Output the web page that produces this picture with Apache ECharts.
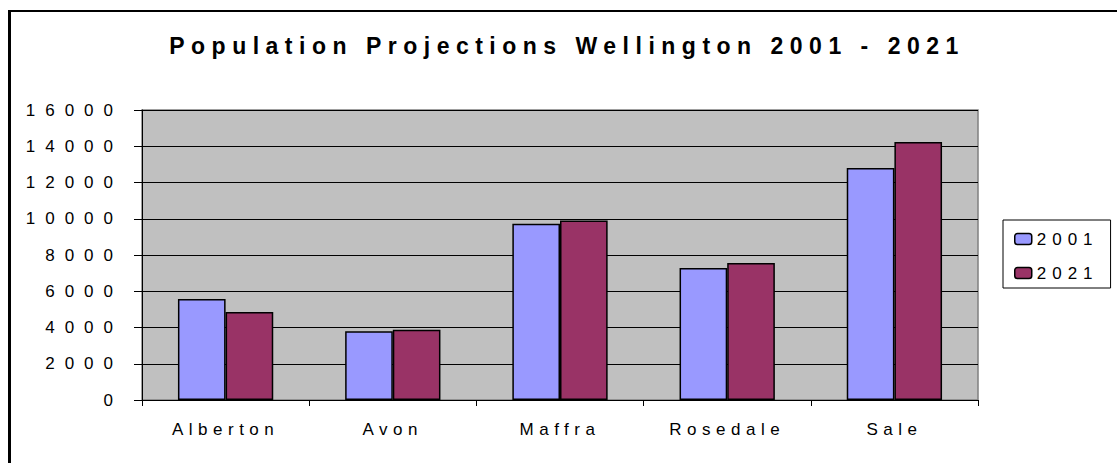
<!DOCTYPE html>
<html>
<head>
<meta charset="utf-8">
<script src="https://cdn.jsdelivr.net/npm/echarts@6/dist/echarts.min.js"></script>
<style>
html,body{margin:0;padding:0;background:#fff;}
#chart{width:1117px;height:463px;}
</style>
</head>
<body>
<div id="chart"></div>
<script>
const titleText = 'Population Projections Wellington 2001 - 2021';
const categories = ['Alberton', 'Avon', 'Maffra', 'Rosedale', 'Sale'];
const seriesNames = ['2001', '2021'];
const pop2001 = [5570, 3790, 9730, 7280, 12800];
const pop2021 = [4860, 3880, 9910, 7560, 14230];
const yMin = 0, yMax = 16000, yStep = 2000;

const FONT = "'Liberation Sans', Arial, sans-serif";
const chart = echarts.init(document.getElementById('chart'), null, {renderer: 'svg'});

const option = {
  animation: false,
  backgroundColor: '#ffffff',
  title: {
    text: titleText,
    left: 562, top: 29, textAlign: 'center',
    textStyle: {fontFamily: FONT, fontSize: 23, fontWeight: 'bold', color: '#000'}
  },
  legend: {
    data: seriesNames,
    orient: 'vertical',
    left: 1003, top: 220,
    padding: [8, 36, 4, 11],
    itemGap: 12,
    itemWidth: 17, itemHeight: 11,
    itemTextGap: 8,
    itemStyle: {borderColor: '#000', borderWidth: 1.5},
    borderColor: '#000', borderWidth: 1,
    backgroundColor: '#fff',
    textStyle: {fontFamily: FONT, fontSize: 17, color: '#000', lineHeight: 22}
  },
  grid: {
    left: 142, top: 110, right: 139, bottom: 63,
    show: true, backgroundColor: '#C0C0C0', borderColor: '#808080', borderWidth: 1.5
  },
  xAxis: {
    type: 'category',
    data: categories,
    axisLine: {lineStyle: {color: '#000', width: 1}},
    axisTick: {show: true, length: 6, lineStyle: {color: '#000'}},
    axisLabel: {fontFamily: FONT, fontSize: 17, color: '#000', margin: 21}
  },
  yAxis: {
    type: 'value',
    min: yMin, max: yMax, interval: yStep,
    axisLine: {show: true, lineStyle: {color: '#000', width: 1}},
    axisTick: {show: true, length: 8, lineStyle: {color: '#000'}},
    splitLine: {lineStyle: {color: '#000', width: 1}},
    axisLabel: {fontFamily: FONT, fontSize: 17, color: '#000', margin: 19,
      formatter: v => String(v)}
  },
  graphic: [
    {type: 'line', shape: {x1: 9.5, y1: 10, x2: 9.5, y2: 463}, style: {stroke: '#000', lineWidth: 3}, z: 100},
    {type: 'line', shape: {x1: 8, y1: 11, x2: 1117, y2: 11}, style: {stroke: '#000', lineWidth: 2}, z: 100}
  ],
  series: [
    {name: seriesNames[0], type: 'bar', data: pop2001, barGap: '0%', barCategoryGap: '43%',
      itemStyle: {color: '#9999FF', borderColor: '#000', borderWidth: 1.5}},
    {name: seriesNames[1], type: 'bar', data: pop2021, barGap: '0%', barCategoryGap: '43%',
      itemStyle: {color: '#993366', borderColor: '#000', borderWidth: 1.5}}
  ]
};
chart.setOption(option);

const yLabels = [];
for (let v = yMin; v <= yMax; v += yStep) yLabels.push(String(v));

function applySpacing() {
  document.querySelectorAll('#chart svg text').forEach(t => {
    const s = t.textContent;
    let ls = '5.5px';
    if (s === titleText) ls = '6.5px';
    else if (yLabels.includes(s)) ls = '10px';
    else if (seriesNames.includes(s)) ls = '6px';
    t.style.letterSpacing = ls;
  });
}
chart.on('finished', applySpacing);
applySpacing();
setTimeout(applySpacing, 50);
</script>
</body>
</html>
